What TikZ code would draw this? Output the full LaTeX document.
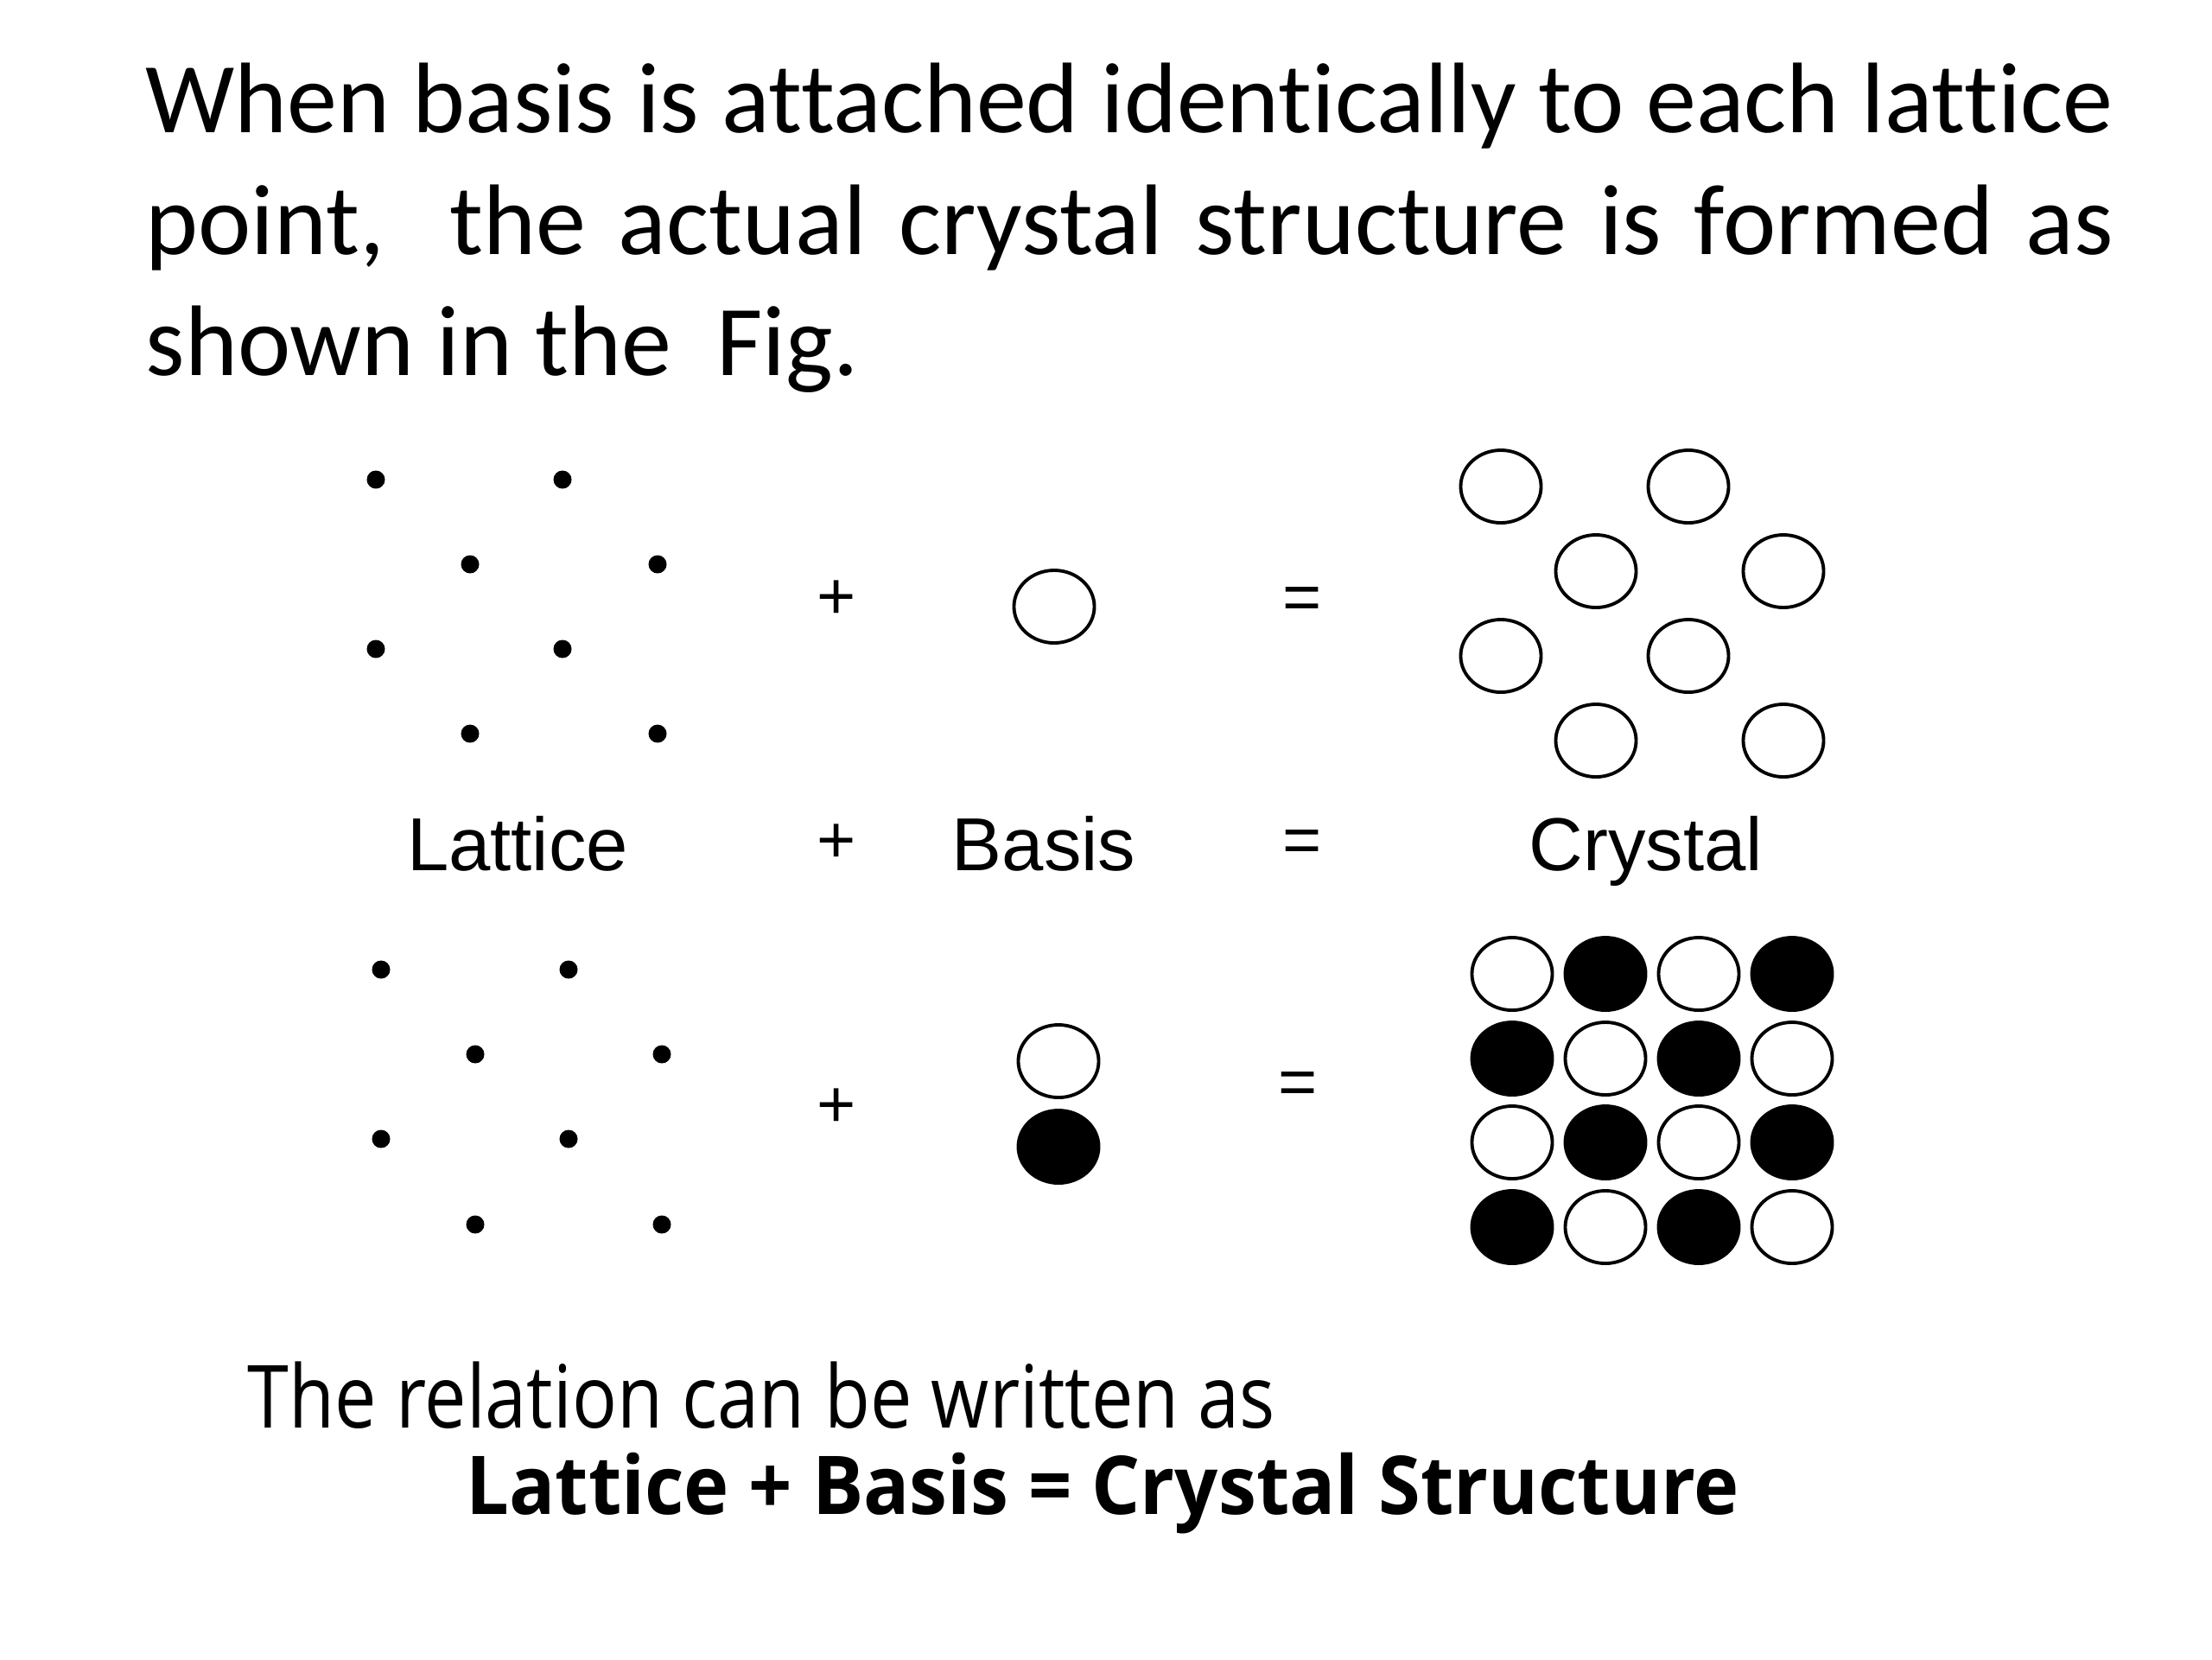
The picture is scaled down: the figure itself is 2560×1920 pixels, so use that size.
\documentclass[tikz,border=0pt]{standalone}
\usepackage{fontspec}
\setmainfont[Ligatures={NoCommon}]{Carlito}
\newfontfamily\labelfont{Liberation Sans}
\newfontfamily\comicfont{Open Sans}
\usetikzlibrary{shapes.geometric}
\begin{document}
\begin{tikzpicture}[x=0.01cm,y=-0.01cm,
  latdot/.style={circle,fill=black,inner sep=0,minimum size=0.21cm},
  openatom/.style={ellipse,draw=black,line width=1.1pt,fill=white,inner sep=0,minimum width=0.93cm,minimum height=0.84cm},
  fullatom/.style={openatom,fill=black},
  titleline/.style={anchor=base west,inner sep=0,font=\fontsize{33}{40}\selectfont},
  lbl/.style={anchor=base,inner sep=0,font=\labelfont\fontsize{24.7}{28}\selectfont},
  sym/.style={anchor=center,inner sep=0,font=\labelfont\fontsize{22}{26}\selectfont},
  relline/.style={anchor=base west,inner sep=0,font=\comicfont\fontsize{28.7}{34}\selectfont},
  relbold/.style={anchor=base west,inner sep=0,font=\comicfont\bfseries\fontsize{26.7}{32}\selectfont}]
\fill[white] (0,0) rectangle (2560,1920);
\useasboundingbox (0,0) rectangle (2560,1920);
% title
\node[titleline] (t1) at (168,153) {\makebox[22.76cm][s]{When basis is attached identically to each lattice}};
\node[titleline] (t2) at (168,294) {\makebox[22.76cm][s]{point,\ \ the actual crystal structure is formed as}};
\node[titleline] (t3) at (168,434) {shown in the\ \ Fig.};
% top lattice
\foreach \x/\y [count=\i] in {435/555,651/555,544/653,761/653,435/751,651/751,544/849,761/849}
  \node[latdot] (la\i) at (\x,\y) {};
\node[sym] (plusA) at (968,694) {+};
\node[openatom] (basA) at (1220,702) {};
\node[sym] (eqA) at (1507,699) {=};
\foreach \x/\y [count=\i] in {1737/563,1954/563,1847/661,2064/661,1737/759,1954/759,1847/857,2064/857}
  \node[openatom] (ca\i) at (\x,\y) {};
% labels
\node[lbl] (lLat) at (599,1007) {Lattice};
\node[sym] (lPlus) at (968,976) {+};
\node[lbl] (lBas) at (1208,1007) {Basis};
\node[sym] (lEq) at (1507,980) {=};
\node[lbl] (lCry) at (1905,1007) {Crystal};
% bottom lattice
\foreach \x/\y [count=\i] in {441/1122,658/1122,550/1220,766/1220,441/1318,658/1318,550/1417,766/1417}
  \node[latdot] (lb\i) at (\x,\y) {};
\node[sym] (plusB) at (968,1282) {+};
\node[openatom] (basB1) at (1225,1228) {};
\node[fullatom] (basB2) at (1225,1327) {};
\node[sym] (eqB) at (1502,1260) {=};
\foreach \r/\yy in {0/1127,1/1225,2/1322,3/1420}
  \foreach \c/\xx in {0/1750,1/1858,2/1966,3/2074}{
    \pgfmathtruncatemacro\myparity{mod(\r+\c,2)}
    \ifnum\myparity=0 \node[openatom] (cb\r\c) at (\xx,\yy) {};
    \else \node[fullatom] (cb\r\c) at (\xx,\yy) {};\fi
  }
% relation
\node[relline] (rel1) at (286,1652) {\scalebox{0.855}[1]{The relation can be written as}};
\node[relbold] (rel2) at (539,1752) {\scalebox{0.94}[1]{Lattice + Basis = Crystal Structure}};
\end{tikzpicture}
\end{document}
